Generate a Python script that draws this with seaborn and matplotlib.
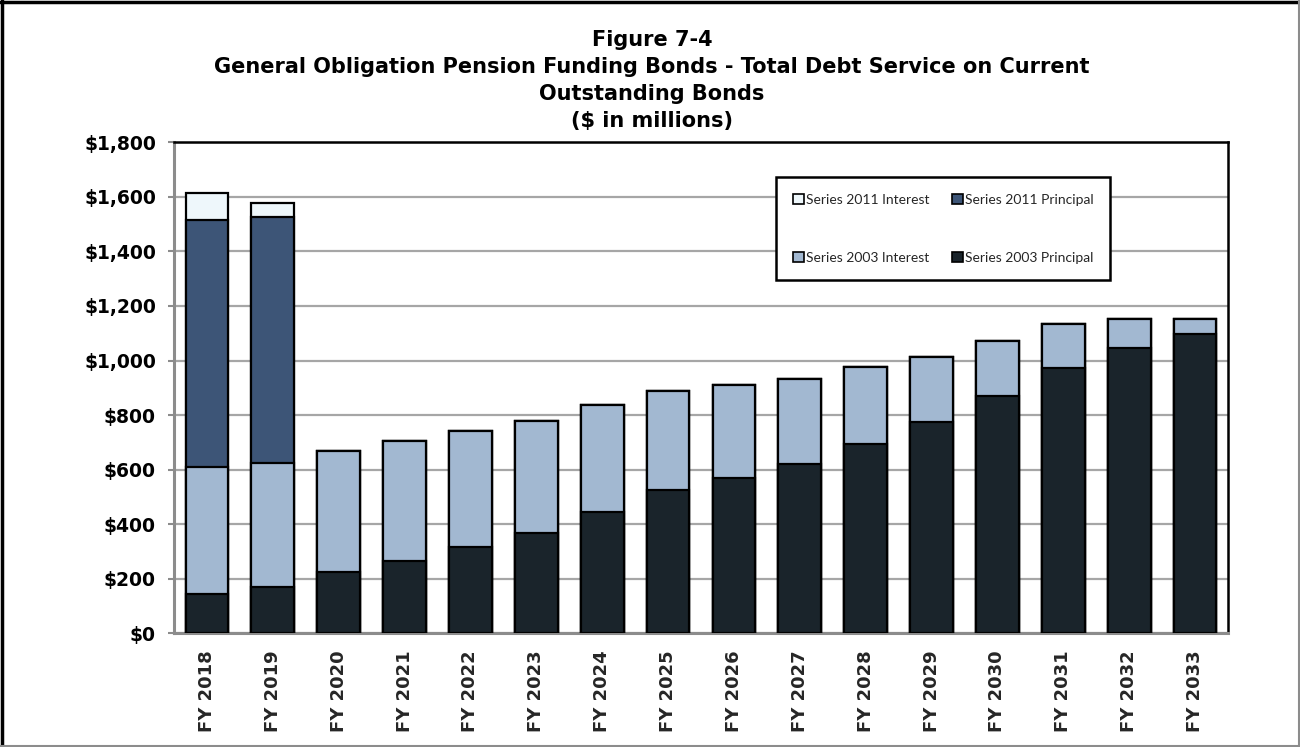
import numpy as np
import pandas as pd
import matplotlib
matplotlib.use("Agg")
import matplotlib.pyplot as plt
from matplotlib.lines import Line2D
from matplotlib.patches import Patch
import seaborn as sns

# Debt service by fiscal year ($ in millions)
years = ["FY 2018", "FY 2019", "FY 2020", "FY 2021", "FY 2022", "FY 2023", "FY 2024", "FY 2025",
         "FY 2026", "FY 2027", "FY 2028", "FY 2029", "FY 2030", "FY 2031", "FY 2032", "FY 2033"]
principal_2003 = [144, 171, 224, 266, 318, 369, 443, 525, 568, 619, 694, 774, 870, 971, 1045, 1096]
interest_2003 = [467, 454, 445, 440, 425, 410, 395, 364, 343, 314, 283, 240, 203, 162, 108, 57]
principal_2011 = [903, 902, 0, 0, 0, 0, 0, 0, 0, 0, 0, 0, 0, 0, 0, 0]
interest_2011 = [101, 52, 0, 0, 0, 0, 0, 0, 0, 0, 0, 0, 0, 0, 0, 0]

series_names = ["Series 2003 Principal", "Series 2003 Interest",
                "Series 2011 Principal", "Series 2011 Interest"]
series_colors = ["#1a242b", "#a2b8d1", "#3d5577", "#eef7fb"]

sns.set_theme(style="white")
plt.rcParams["font.family"] = ["DejaVu Sans"]

fig = plt.figure(figsize=(13, 7.47), dpi=100)
ax = fig.add_axes([174 / 1300, 1 - 633.3 / 747, (1228 - 174) / 1300, (633.3 - 142.3) / 747])

df = pd.DataFrame({
    "year": years,
    series_names[0]: principal_2003,
    series_names[1]: interest_2003,
    series_names[2]: principal_2011,
    series_names[3]: interest_2011,
})
stack = df[series_names].cumsum(axis=1)

# Stacked bars: draw cumulative heights from the top segment down
for name, color in reversed(list(zip(series_names, series_colors))):
    sns.barplot(x=df["year"], y=stack[name], color=color, saturation=1,
                edgecolor="black", linewidth=1.6, width=0.65, ax=ax, zorder=3)

ax.set_ylim(0, 1800)
ax.set_xlim(-0.5, len(years) - 0.5)
ax.set_yticks(np.arange(0, 1801, 200))
ax.set_yticklabels([f"${v:,.0f}" for v in np.arange(0, 1801, 200)])
ax.yaxis.grid(True, color="#a6a6a6", linewidth=1.6, zorder=0)
ax.set_axisbelow(True)
ax.set_xlabel("")
ax.set_ylabel("")

for side in ["top", "right"]:
    ax.spines[side].set_visible(True)
    ax.spines[side].set_color("black")
    ax.spines[side].set_linewidth(1.8)
for side in ["left", "bottom"]:
    ax.spines[side].set_visible(True)
    ax.spines[side].set_color("#8c8c8c")
    ax.spines[side].set_linewidth(2.2)

ax.tick_params(axis="y", left=True, length=4, width=1.5, color="#8c8c8c", pad=9,
               labelsize=13.5, labelcolor="black")
for lab in ax.get_yticklabels():
    lab.set_fontweight("bold")
ax.tick_params(axis="x", bottom=False, length=0, pad=12, labelsize=13, labelrotation=90)
for lab in ax.get_xticklabels():
    lab.set_fontweight("bold")
    lab.set_verticalalignment("top")

# Legend: 2011 series on the first row, 2003 series on the second
leg_order = [3, 1, 2, 0]
handles = [Patch(facecolor=series_colors[i], edgecolor="black", linewidth=1.2) for i in leg_order]
labels = [series_names[i] for i in leg_order]
leg = ax.legend(handles, labels, ncol=2, loc="upper left",
                bbox_to_anchor=(776 / 1300, 1 - 177 / 747), bbox_transform=fig.transFigure,
                frameon=True, fancybox=False, framealpha=1, edgecolor="black",
                prop={"family": "Lato", "size": 10},
                handlelength=0.8, handleheight=0.8, handletextpad=0.15,
                labelspacing=3.3, columnspacing=1.6, borderpad=1.2, borderaxespad=0)
leg.get_frame().set_linewidth(1.8)

# Title block
title_lines = ["Figure 7-4",
               "General Obligation Pension Funding Bonds - Total Debt Service on Current",
               "Outstanding Bonds",
               "($ in millions)"]
for i, line in enumerate(title_lines):
    fig.text(652 / 1300, 1 - (40 + 27 * i) / 747, line, ha="center", va="center",
             fontsize=15, fontweight="bold", color="black")

# Figure border
fig.add_artist(Line2D([2 / 1300, 2 / 1300], [0, 1], color="black", linewidth=2.5))
fig.add_artist(Line2D([0, 1], [1 - 2 / 747, 1 - 2 / 747], color="black", linewidth=2.5))
fig.add_artist(Line2D([1298.5 / 1300, 1298.5 / 1300], [0, 1], color="#8c8c8c", linewidth=1.5))
fig.add_artist(Line2D([0, 1], [1.5 / 747, 1.5 / 747], color="#8c8c8c", linewidth=1.5))

fig.savefig("out.png", dpi=100)
